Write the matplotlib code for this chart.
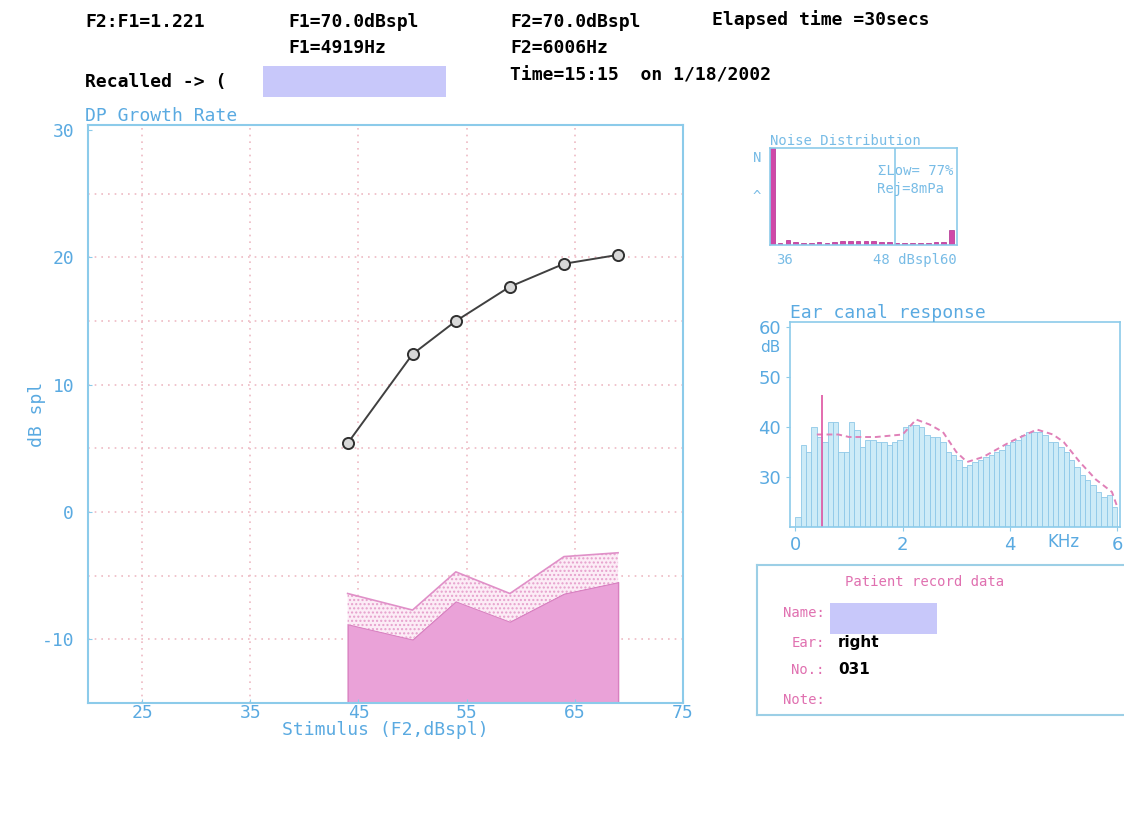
import matplotlib
matplotlib.use("Agg")
import matplotlib.pyplot as plt
from matplotlib.patches import Rectangle

plt.rcParams["axes.unicode_minus"] = False

W, H = 1124, 819

# DP growth data (stimulus F2 level vs DP level)
stim_levels = [44, 50, 54, 59, 64, 69]
dp_levels = [5.4, 12.4, 15.0, 17.7, 19.5, 20.2]
noise_upper = [-6.4, -7.7, -4.7, -6.4, -3.5, -3.2]
noise_lower = [-8.8, -10.0, -7.0, -8.6, -6.4, -5.5]

# noise distribution histogram
noise_bins = list(range(36, 60))
noise_counts = [100, 2, 5, 3, 2, 2, 3, 2, 3, 4, 4, 4, 4, 4, 3, 3, 2, 2, 2, 2, 2, 3, 3, 15]

# ear canal response
ecr_freq = [0.05, 0.15, 0.25, 0.35, 0.45, 0.55, 0.65, 0.75, 0.85, 0.95,
            1.05, 1.15, 1.25, 1.35, 1.45, 1.55, 1.65, 1.75, 1.85, 1.95,
            2.05, 2.15, 2.25, 2.35, 2.45, 2.55, 2.65, 2.75, 2.85, 2.95,
            3.05, 3.15, 3.25, 3.35, 3.45, 3.55, 3.65, 3.75, 3.85, 3.95,
            4.05, 4.15, 4.25, 4.35, 4.45, 4.55, 4.65, 4.75, 4.85, 4.95,
            5.05, 5.15, 5.25, 5.35, 5.45, 5.55, 5.65, 5.75, 5.85, 5.95]
ecr_db = [22, 36.5, 35, 40, 38, 37, 41, 41, 35, 35,
          41, 39.5, 36, 37.5, 37.5, 37, 37, 36.5, 37, 37.5,
          40, 40.5, 40.5, 40, 38.5, 38, 38, 37, 35, 34.5,
          33.5, 32, 32.5, 33, 33.5, 34, 34.5, 35, 35.5, 36.5,
          37, 37.5, 38.5, 39, 39, 39, 38.5, 37, 37, 36,
          35, 33.5, 32, 30.5, 29.5, 28.5, 27, 26, 26.5, 24]
ref_freq = [0.4, 0.8, 1.0, 1.5, 2.0, 2.25, 2.5, 2.75, 3.0, 3.2, 3.5, 4.0, 4.5, 4.8, 5.0, 5.3, 5.6, 5.9, 6.0]
ref_db = [38.5, 38.5, 38, 38, 38.5, 41.5, 40.5, 39, 35, 33, 34, 37, 39.5, 38.5, 37, 33, 29.5, 27, 24]
spike_freq, spike_db = 0.49, 46.4

BLUE = "#5aaae1"
SPINE = "#8ccbea"
PINK = "#e070b8"
GRID = "#eebac4"
MONO = "DejaVu Sans Mono"

fig = plt.figure(figsize=(W / 100, H / 100), dpi=100)
fig.patch.set_facecolor("white")


def px_axes(x0, y0, x1, y1):
    return fig.add_axes([x0 / W, 1 - y1 / H, (x1 - x0) / W, (y1 - y0) / H])


def ftext(x, y, s, **kw):
    fig.text(x / W, 1 - y / H, s, va="center", **kw)


# header
hdr = dict(family=MONO, fontweight="bold", fontsize=13, color="black")
ftext(85, 22, "F2:F1=1.221", **hdr)
ftext(288, 22, "F1=70.0dBspl", **hdr)
ftext(510, 22, "F2=70.0dBspl", **hdr)
ftext(712, 20, "Elapsed time =30secs", **hdr)
ftext(288, 48, "F1=4919Hz", **hdr)
ftext(510, 48, "F2=6006Hz", **hdr)
ftext(85, 82, "Recalled -> (", **hdr)
ftext(510, 75, "Time=15:15  on 1/18/2002", **hdr)
fig.patches.append(Rectangle((263 / W, 1 - 97 / H), 183 / W, 31 / H,
                             transform=fig.transFigure, facecolor="#c8c8fa",
                             edgecolor="none"))

# main DP growth plot
ax = px_axes(88, 125, 683, 703)
ax.set_xlim(20, 75)
ax.set_ylim(-15, 30.4)
for v in [25, 35, 45, 55, 65]:
    ax.axvline(v, color=GRID, ls=(0, (1, 3)), lw=1.2, zorder=0)
for h in range(-10, 30, 5):
    ax.axhline(h, color=GRID, ls=(0, (1, 3)), lw=1.2, zorder=0)

ax.fill_between(stim_levels, -15, noise_lower, facecolor="#eaa2d8",
                edgecolor="#d880c0", lw=1, zorder=1)
ax.fill_between(stim_levels, noise_lower, noise_upper, facecolor="#fcecf6",
                edgecolor="#e6a0cc", hatch="....", lw=0, zorder=1)
ax.plot(stim_levels, noise_upper, color="#e090c8", lw=1.2, zorder=2)
ax.plot(stim_levels, dp_levels, color="#404040", lw=1.4, marker="o", ms=8,
        mfc="#d8d8d8", mec="#303030", mew=1.4, zorder=3)

ax.set_xticks([25, 35, 45, 55, 65, 75])
ax.set_yticks([-10, 0, 10, 20, 30])
ax.tick_params(colors=SPINE, labelcolor=BLUE, labelsize=13, length=3, direction="in")
for lab in ax.get_xticklabels() + ax.get_yticklabels():
    lab.set_family(MONO)
ax.tick_params(axis="y", pad=10)
ax.tick_params(axis="x", pad=1)
for s in ax.spines.values():
    s.set_color(SPINE)
    s.set_linestyle((0, (2, 1)))
    s.set_linewidth(1.5)
ax.set_xlabel("Stimulus (F2,dBspl)", family=MONO, fontsize=13, color=BLUE, labelpad=-1)
ax.set_ylabel("dB spl", family=MONO, fontsize=13, color=BLUE, labelpad=-3)
ax.set_title("DP Growth Rate", family=MONO, fontsize=13, color=BLUE, loc="left",
             pad=1, x=-0.005)

# noise distribution inset
axn = px_axes(770, 148, 957, 245)
axn.bar(noise_bins, noise_counts, width=0.6, align="edge", color="#d048a8",
        edgecolor="#b03090", lw=0.5)
axn.set_xlim(36, 60)
axn.set_ylim(0, 100)
axn.axvline(52, color=SPINE, lw=1.2)
axn.set_xticks([])
axn.set_yticks([])
for s in axn.spines.values():
    s.set_color(SPINE)
    s.set_linewidth(1.2)
small = dict(family=MONO, fontsize=10, color="#78bce6")
axn.set_title("Noise Distribution", loc="left", pad=1, **small)
axn.text(0.98, 0.76, "\u03a3Low= 77%", transform=axn.transAxes, ha="right", va="center", **small)
axn.text(0.93, 0.58, "Rej=8mPa", transform=axn.transAxes, ha="right", va="center", **small)
axn.text(0.03, -0.15, "36", transform=axn.transAxes, ha="left", va="center", **small)
axn.text(1.0, -0.15, "48 dBspl60", transform=axn.transAxes, ha="right", va="center", **small)
axn.text(-0.07, 0.9, "N", transform=axn.transAxes, ha="center", va="center", **small)
axn.text(-0.07, 0.5, "^", transform=axn.transAxes, ha="center", va="center", **small)

# ear canal response
axe = px_axes(790, 322, 1120, 527)
axe.bar(ecr_freq, [v - 20 for v in ecr_db], bottom=20, width=0.1,
        facecolor="#cdebf7", edgecolor="#8ec8e8", lw=0.6)
axe.plot(ref_freq, ref_db, color="#e080b8", lw=1.4, ls=(0, (3, 2)))
axe.vlines(spike_freq, 20, spike_db, color="#e060a8", lw=1.3)
axe.set_xlim(-0.1, 6.05)
axe.set_ylim(20, 61)
axe.set_xticks([0, 2, 4, 6])
axe.set_yticks([30, 40, 50, 60])
axe.tick_params(colors=SPINE, labelcolor=BLUE, labelsize=13, length=3)
for s in axe.spines.values():
    s.set_color(SPINE)
    s.set_linewidth(1.2)
axe.text(5.0, 17.0, "KHz", ha="center", va="center", fontsize=12, color=BLUE)
axe.text(-0.47, 56.0, "dB", ha="center", va="center", fontsize=11, color=BLUE)
axe.set_title("Ear canal response", family=MONO, fontsize=13, color=BLUE,
              loc="left", pad=2)

# patient record box
axp = px_axes(757, 565, 1130, 715)
axp.set_xticks([])
axp.set_yticks([])
for s in axp.spines.values():
    s.set_color("#9ccfe6")
    s.set_linewidth(1.5)
axp.set_xlim(757, 1130)
axp.set_ylim(715, 565)
lab = dict(family=MONO, fontsize=10, color="#e070b0", va="center")
val = dict(family="DejaVu Sans", fontsize=11, fontweight="bold", color="black", va="center")
axp.text(925, 582, "Patient record data", ha="center", **lab)
axp.text(825, 613, "Name:", ha="right", **lab)
axp.add_patch(Rectangle((830, 603), 107, 31, facecolor="#c8c8fa", edgecolor="none"))
axp.text(825, 643, "Ear:", ha="right", **lab)
axp.text(838, 643, "right", ha="left", **val)
axp.text(825, 670, "No.:", ha="right", **lab)
axp.text(838, 670, "031", ha="left", **val)
axp.text(825, 700, "Note:", ha="right", **lab)

fig.savefig("out.png", dpi=100)
